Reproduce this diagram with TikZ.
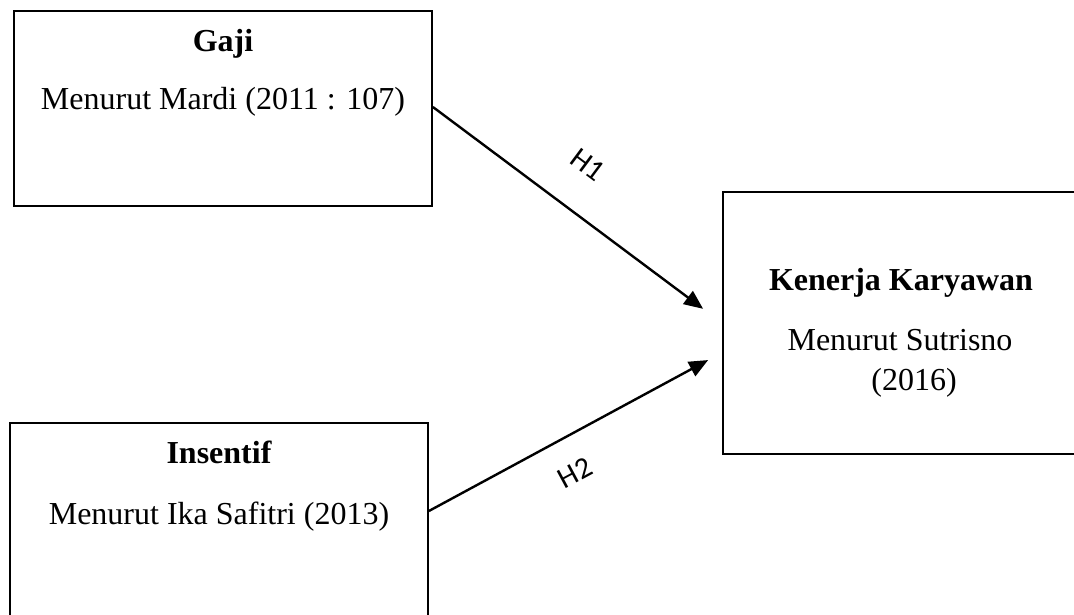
\documentclass[tikz,border=0pt]{standalone}
\usepackage{fontspec}
\setmainfont{Liberation Serif}
\newfontfamily\labelfont{Carlito}
\usetikzlibrary{arrows.meta}
\begin{document}
\begin{tikzpicture}[x=1pt,y=-1pt,
  boxstyle/.style={draw=black,line width=1.8pt,rectangle,inner sep=0pt},
  txt/.style={anchor=base,inner sep=0pt,font=\fontsize{32}{38}\selectfont},
  ttl/.style={txt,font=\fontsize{32}{38}\selectfont\bfseries},
  conn/.style={line width=2.4pt,-{Triangle[length=19pt,width=16pt]}},
  hlab/.style={inner sep=0pt,font=\labelfont\fontsize{30}{34}\selectfont}]
\useasboundingbox (0,0) rectangle (1074,615);
\fill[white] (0,0) rectangle (1074,615);
\node[boxstyle,minimum width=418pt,minimum height=195pt] (gaji) at (223,108.5) {};
\node[boxstyle,minimum width=418pt,minimum height=217pt] (insentif) at (219,531.5) {};
\node[boxstyle,minimum width=367pt,minimum height=262pt] (kinerja) at (906.5,323) {};
\node[ttl] (gajiT) at (223,52) {Gaji};
\node[txt] (gajiS) at (223,110) {Menurut Mardi (2011 : 107)};
\node[ttl] (insT) at (219,463) {Insentif};
\node[txt] (insS) at (219,524) {Menurut Ika Safitri (2013)};
\node[ttl] (kinT) at (901,290) {Kenerja Karyawan};
\node[txt] (kinS) at (900,350) {Menurut Sutrisno};
\node[txt] (kinY) at (914,390) {(2016)};
\draw[conn,shorten >=23.7pt] ([yshift=1.5pt]gaji.east) -- (kinerja.west);
\draw[conn,shorten >=15.9pt] ([yshift=20.5pt]insentif.east) -- ([yshift=-29.5pt]kinerja.west);
\node[hlab,rotate=-36.7] (h1) at (588,165) {H1};
\node[hlab,rotate=28.3] (h2) at (575,473) {H2};
\end{tikzpicture}
\end{document}
